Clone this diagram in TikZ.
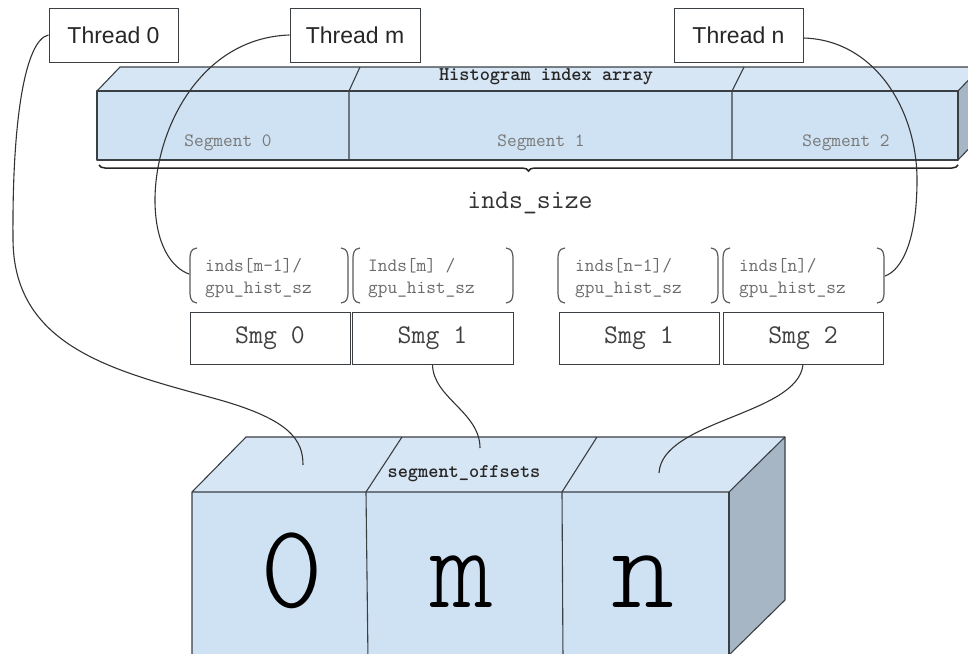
\documentclass[tikz,border=0pt]{standalone}
\usepackage{fontspec}
\setmainfont{Liberation Sans}
\newfontfamily\monolight{Latin Modern Mono Light}
\usetikzlibrary{decorations.pathreplacing}
\definecolor{facefront}{HTML}{CFE2F3}
\definecolor{facetop}{HTML}{D7E6F4}
\definecolor{faceside}{HTML}{A7B6C5}
\definecolor{edge}{HTML}{3A3F44}
\definecolor{segtext}{HTML}{777777}
\definecolor{grouptext}{HTML}{6A6A6A}
\tikzset{
  outline/.style={draw=edge, line width=1.1pt, line join=round},
  threadbox/.style={draw=edge, line width=1pt, fill=white, minimum height=54pt, inner sep=0pt,
    font=\fontsize{23}{26}\selectfont, text=black!85},
  smgbox/.style={draw=edge, line width=1pt, minimum height=52pt, minimum width=160pt, inner sep=0pt,
    font=\ttfamily\fontsize{27}{29}\selectfont, text=black!75},
  grouptxt/.style={anchor=west, inner sep=0pt, align=left, text=grouptext,
    font=\ttfamily\fontsize{18.8}{22}\selectfont},
  segtxt/.style={inner sep=0pt, text=segtext, font=\ttfamily\fontsize{18.8}{20}\selectfont},
  bigtxt/.style={anchor=base, inner sep=0pt, font=\monolight\fontsize{120}{120}\selectfont},
  titletxt/.style={inner sep=0pt, font=\ttfamily\bfseries\fontsize{19.4}{21}\selectfont, text=black!85},
  paren/.style={draw=black!65, line width=1.2pt},
  wire/.style={draw=black!80, line width=1.1pt}
}
\newcommand{\lparen}[1]{\draw[paren] (#1+7,248) .. controls (#1+1,249) and (#1,252) .. (#1,260) -- (#1,291) .. controls (#1,299) and (#1+1,302) .. (#1+7,303);}
\newcommand{\rparen}[1]{\draw[paren] (#1-7,248) .. controls (#1-1,249) and (#1,252) .. (#1,260) -- (#1,291) .. controls (#1,299) and (#1-1,302) .. (#1-7,303);}
\begin{document}
\begin{tikzpicture}[x=1pt,y=-1pt]
\useasboundingbox (0,0) rectangle (968,653);
\clip (0,0) rectangle (968,653);

% ---------- Histogram index array bar ----------
\fill[facefront] (97,91) rectangle (958,160);
\fill[facetop] (97,91) -- (120,67) -- (981,67) -- (958,91) -- cycle;
\fill[faceside] (958,91) -- (981,67) -- (981,136) -- (958,160) -- cycle;
\draw[outline] (97,91) rectangle (958,160);
\draw[outline] (97,91) -- (120,67) -- (981,67);
\draw[outline] (958,91) -- (981,67) (958,160) -- (981,136);
\draw[outline] (349,160) -- (349,91) -- (360,67);
\draw[outline] (732,160) -- (732,91) -- (744,67);
\node[titletxt] (histtitle) at (546,77) {Histogram index array};
\node[segtxt] (seg0) at (228,143) {Segment 0};
\node[segtxt] (seg1) at (541,143) {Segment 1};
\node[segtxt] (seg2) at (846,143) {Segment 2};

% brace
\coordinate (braceL) at (99,165);
\coordinate (braceR) at (958,165);
\draw[draw=black!85, line width=1.5pt, decorate, decoration={brace, mirror, amplitude=6pt}] (braceL) -- (braceR);
\node[inner sep=0pt, font=\ttfamily\fontsize{27}{29}\selectfont, text=black!80] (indssize) at (530,203) {inds\_size};

% ---------- thread boxes ----------
\node[threadbox, minimum width=129pt] (t0) at (113.5,35) {Thread 0};
\node[threadbox, minimum width=130pt] (tm) at (355,35) {Thread m};
\node[threadbox, minimum width=129pt] (tn) at (738.5,35) {Thread n};

% ---------- bracket groups ----------
\lparen{190}\rparen{348}
\lparen{353}\rparen{513}
\lparen{558}\rparen{718}
\lparen{723}\rparen{884}
\node[grouptxt] (g0) at (205,278) {inds[m-1]/\\gpu\_hist\_sz};
\node[grouptxt] (g1) at (368,278) {Inds[m] /\\gpu\_hist\_sz};
\node[grouptxt] (g2) at (575,278) {inds[n-1]/\\gpu\_hist\_sz};
\node[grouptxt] (g3) at (739,278) {inds[n]/\\gpu\_hist\_sz};
\coordinate (p0) at (189,274);
\coordinate (p3) at (885,276);

% ---------- Smg boxes ----------
\node[smgbox] (s0) at (270,338) {Smg 0};
\node[smgbox, minimum width=161pt] (s1) at (432.5,338) {Smg 1};
\node[smgbox] (s2) at (639,338) {Smg 1};
\node[smgbox] (s3) at (803,338) {Smg 2};

% ---------- segment_offsets cube ----------
\fill[facefront] (192,492) rectangle (729,660);
\fill[facetop] (192,492) -- (246,437) -- (785,437) -- (729,492) -- cycle;
\fill[faceside] (729,492) -- (785,437) -- (785,600) -- (729,655) -- cycle;
\draw[outline] (192,660) -- (192,492) -- (246,437) -- (785,437) -- (785,600) -- (729,655);
\draw[outline] (192,492) -- (729,492) -- (785,437);
\draw[outline] (729,492) -- (729,660);
\draw[outline] (368,660) -- (366,492) -- (402,437);
\draw[outline] (563,660) -- (562,492) -- (597,437);
\node[titletxt] (offtitle) at (464,474) {segment\_offsets};
\node[bigtxt] (c0) at (292,607) {0};
\node[bigtxt] (cm) at (462,607) {m};
\node[bigtxt] (cn) at (643,607) {n};
\coordinate (k0) at (303,465);
\coordinate (km) at (480,448);
\coordinate (kn) at (659,473);

% ---------- connectors ----------
\draw[wire] (t0.west) .. controls (25,40) and (12,120) .. (13,240)
  .. controls (14,350) and (120,372) .. (220,400)
  .. controls (290,420) and (303,440) .. (k0);
\draw[wire] (tm.west) .. controls (200,38) and (155,130) .. (155,200)
  .. controls (155,245) and (172,268) .. (p0);
\draw[wire] ([yshift=-3pt]tn.east) .. controls (875,40) and (917,110) .. (917,180)
  .. controls (917,240) and (902,270) .. (p3);
\draw[wire] (s1.south) .. controls (433,398) and (480,412) .. (km);
\draw[wire] (s3.south) .. controls (798,415) and (662,420) .. (kn);
\end{tikzpicture}
\end{document}
